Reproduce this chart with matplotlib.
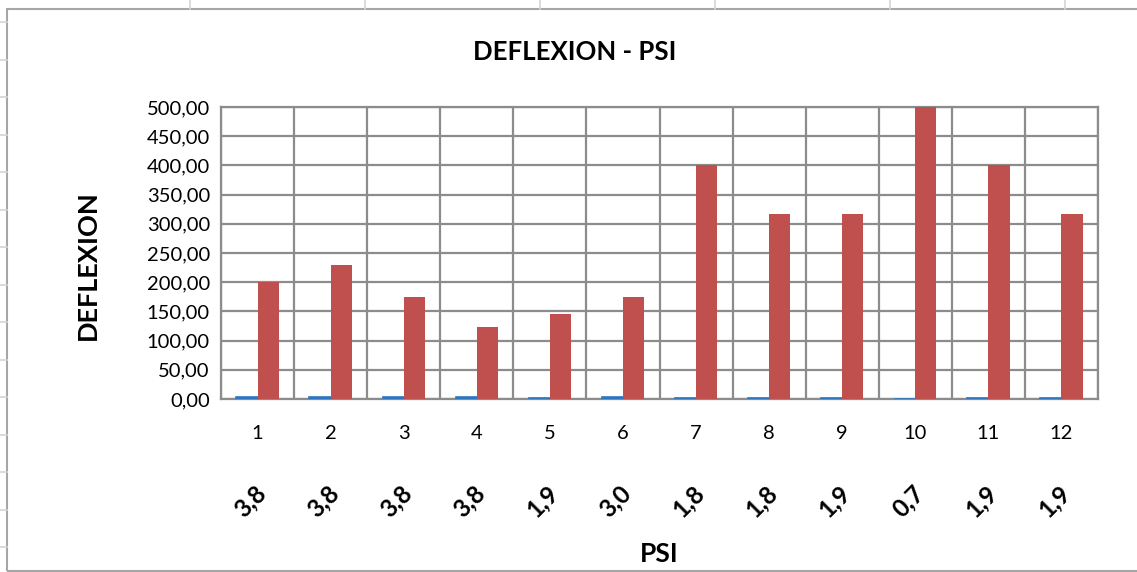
import numpy as np
import matplotlib.pyplot as plt
from matplotlib.lines import Line2D
from matplotlib.patches import Rectangle

plt.rcParams['font.family'] = ['Lato', 'DejaVu Sans']

# data
ensayos = ['1', '2', '3', '4', '5', '6', '7', '8', '9', '10', '11', '12']
psi = [3.8, 3.8, 3.8, 3.8, 1.9, 3.0, 1.8, 1.8, 1.9, 0.7, 1.9, 1.9]
psi_labels = ['3,8', '3,8', '3,8', '3,8', '1,9', '3,0', '1,8', '1,8', '1,9', '0,7', '1,9', '1,9']
deflexion = [200, 229, 175, 123, 145, 175, 400, 316, 316, 500, 400, 316]

W, H = 1137, 572
fig = plt.figure(figsize=(W / 100, H / 100), dpi=100)
fig.patch.set_facecolor('white')

# sheet cell borders behind the chart
for x in [190, 365, 540, 715, 890, 1065]:
    fig.add_artist(Line2D([x / W, x / W], [1, 1 - 9 / H], color='#d4d4d4', lw=1.2))
for y in np.arange(22, 572, 37.5):
    fig.add_artist(Line2D([0, 7 / W], [1 - y / H, 1 - y / H], color='#d4d4d4', lw=1.2))

# chart frame
fig.add_artist(Rectangle((7 / W, 1 - 571 / H), 1.2, (571 - 9) / H,
                         fill=False, edgecolor='#a6a6a6', lw=1.5))

ax = fig.add_axes([221 / W, 1 - 399 / H, (1098 - 221) / W, (399 - 107) / H])

x = np.arange(len(ensayos))
w = 0.29
ax.bar(x - w / 2, psi, w, color='#2E75C0', edgecolor='#2E75C0', lw=1.2, zorder=3)
ax.bar(x + w / 2, deflexion, w, color='#C0504D', zorder=3)

ax.set_xlim(-0.5, len(ensayos) - 0.5)
ax.set_ylim(0, 500)
ax.set_yticks(np.arange(0, 501, 50))
ax.set_yticklabels([f'{v:.2f}'.replace('.', ',') for v in np.arange(0, 501, 50)], fontsize=14.5)
ax.set_xticks(x)
ax.set_xticklabels(ensayos, fontsize=14.5)
ax.set_xticks(np.arange(-0.5, len(ensayos), 1), minor=True)
ax.tick_params(axis='both', which='both', length=0)
ax.tick_params(axis='x', pad=19)
ax.tick_params(axis='y', pad=8)
ax.yaxis.grid(True, color='#8c8c8c', lw=1.6, zorder=0)
ax.xaxis.grid(True, which='minor', color='#8c8c8c', lw=1.6, zorder=0)
for s in ax.spines.values():
    s.set_color('#8c8c8c')
    s.set_linewidth(1.6)

# second level of category labels (PSI)
for i, lab in enumerate(psi_labels):
    ax.text(i - 0.1, -0.35, lab, transform=ax.get_xaxis_transform(),
            rotation=45, ha='center', va='center', fontsize=17.5, fontweight='bold')

ax.text(0.5, -0.53, 'PSI', transform=ax.transAxes, ha='center', va='center',
        fontsize=19, fontweight='bold')
fig.text(88 / W, 1 - 265 / H, 'DEFLEXION', rotation=90, ha='center', va='center',
         fontsize=19.5, fontweight='bold')
fig.text(575 / W, 1 - 52 / H, 'DEFLEXION - PSI', ha='center', va='center',
         fontsize=18.5, fontweight='bold')

fig.savefig('out.png', dpi=100)
